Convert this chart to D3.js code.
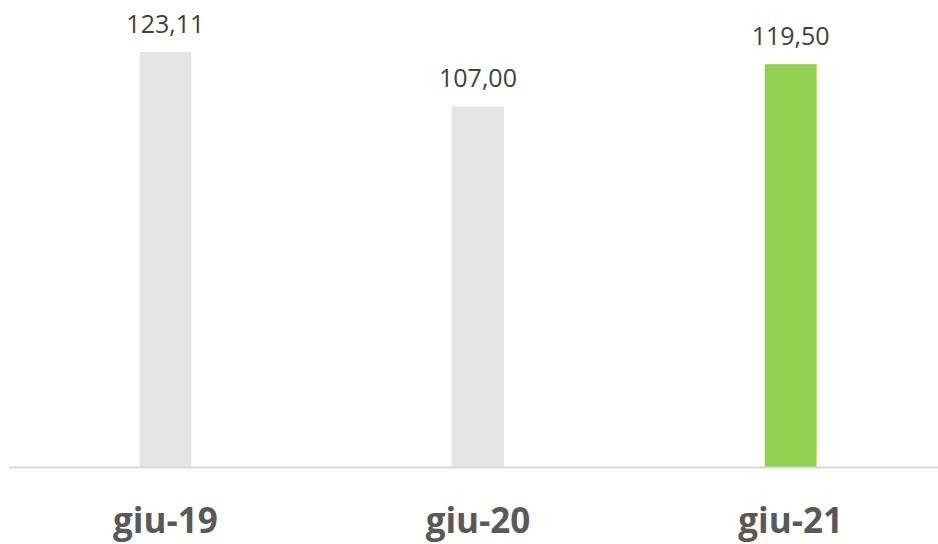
<!DOCTYPE html>
<html><head><meta charset="utf-8">
<script src="https://cdn.jsdelivr.net/npm/d3@7/dist/d3.min.js"></script>
<style>html,body{margin:0;padding:0;background:#fff;}svg{display:block;}</style>
</head><body>
<svg id="chart" width="938" height="544"></svg>
<script>
const categories = ["giu-19", "giu-20", "giu-21"];
const values = [123.11, 107.00, 119.50];
const barColors = ["#e4e4e4", "#e4e4e4", "#92d050"];

const svg = d3.select("#chart");
const baseline = 467;
const x = d3.scaleBand().domain(categories).range([9, 947]).paddingInner(0.834).paddingOuter(0.417);
const y = d3.scaleLinear().domain([0, 123.11]).range([baseline, 52]);
const fmt = v => d3.format(".2f")(v).replace(".", ",");

svg.selectAll("rect.bar").data(values).join("rect")
  .attr("class", "bar")
  .attr("x", (d, i) => x(categories[i]))
  .attr("width", x.bandwidth())
  .attr("y", d => y(d))
  .attr("height", d => baseline - y(d))
  .attr("fill", (d, i) => barColors[i]);

svg.append("line").attr("x1", 9).attr("x2", 938).attr("y1", baseline + 0.5).attr("y2", baseline + 0.5)
  .attr("stroke", "#d9d9d9").attr("stroke-width", 2);

svg.selectAll("text.val").data(values).join("text")
  .attr("class", "val")
  .attr("x", (d, i) => x(categories[i]) + x.bandwidth() / 2)
  .attr("y", d => y(d) - 19)
  .attr("text-anchor", "middle")
  .attr("font-family", "Open Sans")
  .attr("font-size", 25)
  .attr("fill", "#404040")
  .text(d => fmt(d));

const xAxis = d3.axisBottom(x).tickSize(0).tickPadding(0);
const ax = svg.append("g").attr("transform", `translate(0,${baseline})`).call(xAxis);
ax.select(".domain").remove();
ax.selectAll("text")
  .attr("dy", null)
  .attr("y", 66)
  .attr("font-family", "Open Sans")
  .attr("font-weight", "bold")
  .attr("font-size", 35)
  .attr("fill", "#595959");
</script>
</body></html>
